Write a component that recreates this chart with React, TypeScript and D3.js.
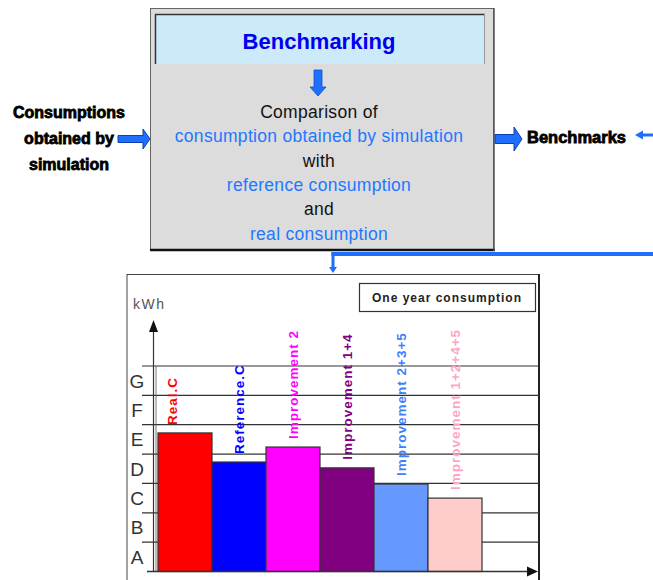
import * as d3 from 'd3';

// bars of the "One year consumption" chart, values in energy classes (A = 0..1, B = 1..2, ...)
const categories = [
  'Real.C',
  'Reference.C',
  'Improvement 2',
  'Improvement 1+4',
  'Improvement 2+3+5',
  'Improvement 1+2+4+5',
];
const values = [4.72, 3.73, 4.24, 3.53, 2.98, 2.5];
const barColors = ['#ff0000', '#0000ff', '#ff00ff', '#800080', '#6699ff', '#ffcccc'];
const labelColors = ['#ff0000', '#0000ff', '#ff00ff', '#800080', '#3f7fff', '#ffa3c9'];
const grades = ['A', 'B', 'C', 'D', 'E', 'F', 'G'];

// flow diagram texts
const leftLines = ['Consumptions', 'obtained by', 'simulation'];
const boxLines = [
  { text: 'Comparison of', blue: false },
  { text: 'consumption obtained by simulation', blue: true },
  { text: 'with', blue: false },
  { text: 'reference consumption', blue: true },
  { text: 'and', blue: false },
  { text: 'real consumption', blue: true },
];

const W = 653;
const H = 580;
const FONT = '"Liberation Sans", Arial, sans-serif';
const ARROW_BLUE = '#1f6fff';

// horizontal block arrow (points right when x1 > x0)
function hArrow(x0: number, x1: number, cy: number, shaft: number, head: number, headLen: number) {
  const dir = x1 > x0 ? 1 : -1;
  const xb = x1 - dir * headLen;
  const p = d3.path();
  p.moveTo(x0, cy - shaft / 2);
  p.lineTo(xb, cy - shaft / 2);
  p.lineTo(xb, cy - head / 2);
  p.lineTo(x1, cy);
  p.lineTo(xb, cy + head / 2);
  p.lineTo(xb, cy + shaft / 2);
  p.lineTo(x0, cy + shaft / 2);
  p.closePath();
  return p.toString();
}

function vArrow(cx: number, y0: number, y1: number, shaft: number, head: number, headLen: number) {
  const yb = y1 - headLen;
  const p = d3.path();
  p.moveTo(cx - shaft / 2, y0);
  p.lineTo(cx - shaft / 2, yb);
  p.lineTo(cx - head / 2, yb);
  p.lineTo(cx, y1);
  p.lineTo(cx + head / 2, yb);
  p.lineTo(cx + shaft / 2, yb);
  p.lineTo(cx + shaft / 2, y0);
  p.closePath();
  return p.toString();
}

function Chart() {
  const x = d3.scaleBand<string>().domain(categories).range([158, 482]).padding(0);
  const y = d3.scaleLinear().domain([0, grades.length]).range([571.5, 366]);
  const gridLevels = d3.range(1, grades.length + 1);
  const axisX = 153.5;

  return (
    <g fontFamily={FONT}>
      {/* frame */}
      <rect x={127} y={274.5} width={412} height={320} fill="#fff" stroke="#444" strokeWidth={1} />
      <line x1={539} x2={539} y1={274} y2={H} stroke="#222" strokeWidth={2} />

      {/* legend box */}
      <rect x={359.5} y={283.5} width={176} height={28} fill="#fff" stroke="#333" strokeWidth={1.2} />
      <text x={447} y={301.5} textAnchor="middle" fontSize={12} fontWeight="bold" letterSpacing={1} fill="#222">
        One year consumption
      </text>

      {/* unit */}
      <text x={133} y={309} fontSize={14} letterSpacing={1.5} fill="#555">kWh</text>

      {/* grade lines */}
      {gridLevels.map((g) => (
        <line key={g} x1={142} x2={539} y1={y(g)} y2={y(g)} stroke="#333" strokeWidth={1.2} />
      ))}

      {/* grade letters */}
      {grades.map((g, i) => (
        <text
          key={g}
          x={137}
          y={(y(i) + y(i + 1)) / 2}
          dy="0.36em"
          textAnchor="middle"
          fontSize={19}
          fill="#333"
        >
          {g}
        </text>
      ))}

      {/* bars */}
      {categories.map((c, i) => (
        <rect
          key={c}
          x={x(c)}
          y={y(values[i])}
          width={x.bandwidth()}
          height={y(0) - y(values[i])}
          fill={barColors[i]}
          stroke="#333"
          strokeWidth={1.2}
        />
      ))}

      {/* rotated bar labels */}
      {categories.map((c, i) => {
        const cx = (x(c) ?? 0) + x.bandwidth() / 2 + (i === 0 ? -13 : 0);
        const by = y(values[i]) - 8;
        return (
          <text
            key={c}
            transform={`translate(${cx},${by}) rotate(-90)`}
            dy="0.36em"
            fontSize={13.5}
            fontWeight="bold"
            letterSpacing={1}
            fill={labelColors[i]}
          >
            {c}
          </text>
        );
      })}

      {/* axes */}
      <line x1={axisX} x2={axisX} y1={y(0)} y2={330} stroke="#333" strokeWidth={1.2} />
      <line x1={156} x2={156} y1={y(0)} y2={y(grades.length)} stroke="#555" strokeWidth={0.8} />
      <path d={`M${axisX},320 L${axisX - 4.5},332 L${axisX + 4.5},332 Z`} fill="#111" />
      <line x1={147} x2={530} y1={y(0)} y2={y(0)} stroke="#333" strokeWidth={1.5} />
      <path d={`M538,${y(0)} L527,${y(0) - 5} L527,${y(0) + 5} Z`} fill="#111" />
    </g>
  );
}

function Diagram() {
  const cx = 319;
  return (
    <g fontFamily={FONT}>
      {/* main box */}
      <rect x={150.5} y={8.5} width={343} height={241} fill="#dcdcdc" stroke="#666" strokeWidth={1} />
      <line x1={150} x2={495} y1={250} y2={250} stroke="#111" strokeWidth={2.5} />
      <line x1={494} x2={494} y1={8} y2={251} stroke="#555" strokeWidth={1.5} />

      {/* header */}
      <rect x={155} y={14} width={330} height={50} fill="#cdeafb" />
      <path d="M155.5,64 L155.5,14.5 L485,14.5" fill="none" stroke="#333" strokeWidth={1.5} />
      <line x1={484.5} x2={484.5} y1={14} y2={64} stroke="#999" strokeWidth={1} />
      <text x={cx} y={49} textAnchor="middle" fontSize={22} fontWeight="bold" fill="#0000ee">
        Benchmarking
      </text>

      {/* down arrow */}
      <path d={vArrow(318, 70, 96, 8, 16, 9)} fill={ARROW_BLUE} stroke="#1450c8" strokeWidth={0.8} />

      {boxLines.map((l, i) => (
        <text
          key={l.text}
          x={cx}
          y={118 + i * 24.3}
          textAnchor="middle"
          fontSize={17.5}
          letterSpacing={0.3}
          fill={l.blue ? '#2277ff' : '#111'}
        >
          {l.text}
        </text>
      ))}

      {/* input */}
      {leftLines.map((t, i) => (
        <text
          key={t}
          x={69}
          y={118 + i * 26}
          textAnchor="middle"
          fontSize={16}
          fontWeight="bold"
          fill="#000"
          stroke="#000"
          strokeWidth={0.8}
        >
          {t}
        </text>
      ))}
      <path d={hArrow(118, 150, 139, 7, 20, 7)} fill={ARROW_BLUE} stroke="#1040b0" strokeWidth={1} />

      {/* output */}
      <path d={hArrow(495, 522, 139, 9, 24, 8)} fill={ARROW_BLUE} stroke="#1040b0" strokeWidth={1} />
      <text x={527} y={143} fontSize={16.5} fontWeight="bold" fill="#000" stroke="#000" strokeWidth={0.8}>
        Benchmarks
      </text>
      <path d={hArrow(W, 635, 135, 3, 9, 8)} fill={ARROW_BLUE} />

      {/* feedback line into chart */}
      <line x1={331.5} x2={W} y1={254} y2={254} stroke={ARROW_BLUE} strokeWidth={4} />
      <path d={vArrow(333, 252, 273, 3, 8, 6)} fill={ARROW_BLUE} />
    </g>
  );
}

export default function App() {
  return (
    <svg
      width={W}
      height={H}
      viewBox={`0 0 ${W} ${H}`}
      style={{ position: 'absolute', left: 0, top: 0, background: '#fff' }}
    >
      <rect width={W} height={H} fill="#fff" />
      <Diagram />
      <Chart />
    </svg>
  );
}
